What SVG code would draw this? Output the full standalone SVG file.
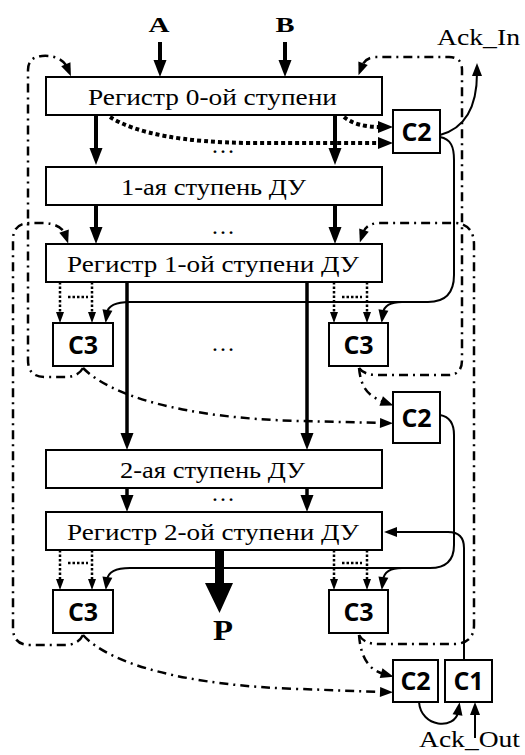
<svg xmlns="http://www.w3.org/2000/svg" width="525" height="755" viewBox="0 0 525 755">
<defs>
<style>
.box{fill:#fff;stroke:#000;stroke-width:2}
.ser{font-family:"Liberation Serif","Times New Roman",serif;font-size:24px;fill:#000}
.serb{font-family:"Liberation Serif","Times New Roman",serif;font-weight:bold;fill:#000}
.sans{font-family:"Open Sans","Noto Sans",sans-serif;font-weight:bold;font-size:25px;fill:#000}
.c{fill:none;stroke:#000}
.thick{stroke-width:4}
.thick2{stroke-width:3.5}
.thin{stroke-width:2}
.dd{stroke-width:2.5;stroke-dasharray:9 5 2 5}
.dot{stroke-width:4;stroke-dasharray:4 3}
.dots{stroke-width:2.5;stroke-dasharray:2.5 2}
</style>
<marker id="big" markerUnits="userSpaceOnUse" markerWidth="18" markerHeight="14" refX="3" refY="6.5" orient="auto" overflow="visible"><path d="M0,0 L17,6.5 L0,13 z" fill="#000"/></marker>
<marker id="dotm" markerUnits="userSpaceOnUse" markerWidth="16" markerHeight="12" refX="3" refY="6" orient="auto" overflow="visible"><path d="M0,0 L15,6 L0,12 z" fill="#000"/></marker>
<marker id="med" markerUnits="userSpaceOnUse" markerWidth="14" markerHeight="10" refX="3" refY="5" orient="auto" overflow="visible"><path d="M0,0 L13,5 L0,10 z" fill="#000"/></marker>
<marker id="sm" markerUnits="userSpaceOnUse" markerWidth="12" markerHeight="8" refX="3" refY="4" orient="auto" overflow="visible"><path d="M0,0 L11,4 L0,8 z" fill="#000"/></marker>
</defs>
<rect x="0" y="0" width="525" height="755" fill="#fff"/>

<g id="connectors">
<path class="c thick" d="M160,42 L160,63" marker-end="url(#big)"/>
<path class="c thick" d="M285,42 L285,63" marker-end="url(#big)"/>
<path class="c thick" d="M96,115 L96,151" marker-end="url(#big)"/>
<path class="c thick" d="M335,115 L335,151" marker-end="url(#big)"/>
<path class="c thick" d="M96,205 L96,230" marker-end="url(#big)"/>
<path class="c thick" d="M335,205 L335,230" marker-end="url(#big)"/>
<path class="c thick2" d="M127,282 L127,436" marker-end="url(#big)"/>
<path class="c thick2" d="M307,282 L307,436" marker-end="url(#big)"/>
<path class="c thick2" d="M127,488 L127,498" marker-end="url(#big)"/>
<path class="c thick2" d="M307,488 L307,498" marker-end="url(#big)"/>

<path class="c dot" d="M110,117 Q150,142 250,143 L381,143" marker-end="url(#dotm)"/>
<path class="c dot" d="M344,117 Q356,127 381,127" marker-end="url(#dotm)"/>

<path class="c thin" d="M440,135 C466,128 477,105 477,73" marker-end="url(#med)"/>
<path class="c thin" d="M440,137 C451,139 454,147 454,160 L454,275 Q454,302 428,302 L130,302 C115,302 108,306 107,313" marker-end="url(#med)"/>
<path class="c thin" d="M402,302 C390,302 384,306 383,313" marker-end="url(#med)"/>

<path class="c dots" d="M60,282 L60,315" marker-end="url(#sm)"/>
<path class="c dots" d="M92,282 L92,315" marker-end="url(#sm)"/>
<path class="c dots" d="M334,282 L334,315" marker-end="url(#sm)"/>
<path class="c dots" d="M367,282 L367,315" marker-end="url(#sm)"/>
<path class="c dots" d="M68,297 L88,297"/>
<path class="c dots" d="M342,297 L362,297"/>

<path class="c thin" d="M440,415 C451,417 454,425 454,435 L454,545 Q454,568 430,568 L130,568 C115,568 108,572 107,580" marker-end="url(#med)"/>
<path class="c thin" d="M402,568 C390,568 384,572 383,580" marker-end="url(#med)"/>

<path class="c dots" d="M60,550 L60,582" marker-end="url(#sm)"/>
<path class="c dots" d="M92,550 L92,582" marker-end="url(#sm)"/>
<path class="c dots" d="M334,550 L334,582" marker-end="url(#sm)"/>
<path class="c dots" d="M367,550 L367,582" marker-end="url(#sm)"/>
<path class="c dots" d="M68,563 L88,563"/>
<path class="c dots" d="M342,563 L362,563"/>

<path class="c thin" d="M464,660 L464,548 Q464,532 448,532 L394,532" marker-end="url(#med)"/>
<path class="c thin" d="M419,702 C421,728 455,730 458,712" marker-end="url(#med)"/>
<path class="c thin" d="M475,738 L475,712" marker-end="url(#med)"/>

<path class="c dd" d="M83,368 Q78,377 65,377 L45,377 Q28,377 28,360 L28,70 Q28,57 42,56 C55,55 64,60 67,67" marker-end="url(#med)"/>
<path class="c dd" d="M83,368 C110,395 180,418 300,421 L383,423" marker-end="url(#med)"/>
<path class="c dd" d="M359,368 Q364,375 378,375 L448,375 Q462,375 462,360 L462,70 Q462,57 449,57 L375,57 Q365,58 362,66" marker-end="url(#med)"/>
<path class="c dd" d="M359,368 C361,388 368,396 384,402" marker-end="url(#med)"/>
<path class="c dd" d="M83,635 Q78,645 65,645 L30,645 Q13,645 13,628 L13,240 Q13,223 30,223 L42,223 C55,223 63,228 65,234" marker-end="url(#med)"/>
<path class="c dd" d="M83,635 C110,665 190,686 300,689 L383,692" marker-end="url(#med)"/>
<path class="c dd" d="M359,635 Q364,644 378,644 L455,644 Q474,643 474,625 L474,245 Q474,224 455,223 L378,223 Q366,224 363,233" marker-end="url(#med)"/>
<path class="c dd" d="M359,635 C361,660 370,670 384,674" marker-end="url(#med)"/>

<polygon points="215,550 224,550 224,583 233,583 219.5,613 205,583 215,583" fill="#000"/>
</g>

<g id="labels">
<text class="serb" x="159" y="32" font-size="22" text-anchor="middle" textLength="21" lengthAdjust="spacingAndGlyphs">A</text>
<text class="serb" x="285" y="32" font-size="22" text-anchor="middle" textLength="19" lengthAdjust="spacingAndGlyphs">B</text>
<text class="serb" x="223" y="640" font-size="29" text-anchor="middle" textLength="20" lengthAdjust="spacingAndGlyphs">P</text>
<text class="ser" x="437" y="45" font-size="25" textLength="83" lengthAdjust="spacingAndGlyphs">Ack_In</text>
<text class="ser" x="419" y="747" font-size="24" textLength="101" lengthAdjust="spacingAndGlyphs">Ack_Out</text>
<text class="ser" x="223" y="153" text-anchor="middle">…</text>
<text class="ser" x="223" y="234" text-anchor="middle">…</text>
<text class="ser" x="223" y="351" text-anchor="middle">…</text>
<text class="ser" x="223" y="501" text-anchor="middle">…</text>
</g>

<g id="reg0"><rect class="box" x="46" y="77" width="336" height="38"/><text class="ser" x="88" y="104.5" textLength="249" lengthAdjust="spacingAndGlyphs">Регистр 0-ой ступени</text></g>
<g id="stage1"><rect class="box" x="46" y="167" width="336" height="38"/><text class="ser" x="121" y="194.5" textLength="185" lengthAdjust="spacingAndGlyphs">1-ая ступень ДУ</text></g>
<g id="reg1"><rect class="box" x="46" y="244" width="336" height="38"/><text class="ser" x="67" y="271.5" textLength="292" lengthAdjust="spacingAndGlyphs">Регистр 1-ой ступени ДУ</text></g>
<g id="stage2"><rect class="box" x="46" y="450" width="336" height="38"/><text class="ser" x="120" y="477.5" textLength="185" lengthAdjust="spacingAndGlyphs">2-ая ступень ДУ</text></g>
<g id="reg2"><rect class="box" x="46" y="512" width="336" height="38"/><text class="ser" x="67" y="539.5" textLength="292" lengthAdjust="spacingAndGlyphs">Регистр 2-ой ступени ДУ</text></g>

<g id="c2_top"><rect class="box" x="393" y="110" width="47" height="43"/><text class="sans" x="416.5" y="140.5" text-anchor="middle">C2</text></g>
<g id="c3_1l"><rect class="box" x="53" y="323" width="60" height="43"/><text class="sans" x="83" y="353.5" text-anchor="middle">C3</text></g>
<g id="c3_1r"><rect class="box" x="329" y="323" width="59" height="43"/><text class="sans" x="358.5" y="353.5" text-anchor="middle">C3</text></g>
<g id="c2_mid"><rect class="box" x="393" y="392" width="47" height="51"/><text class="sans" x="416.5" y="426.5" text-anchor="middle">C2</text></g>
<g id="c3_2l"><rect class="box" x="53" y="590" width="60" height="43"/><text class="sans" x="83" y="620.5" text-anchor="middle">C3</text></g>
<g id="c3_2r"><rect class="box" x="329" y="590" width="59" height="43"/><text class="sans" x="358.5" y="620.5" text-anchor="middle">C3</text></g>
<g id="c2_bot"><rect class="box" x="393" y="660" width="45" height="42"/><text class="sans" x="415.5" y="690" text-anchor="middle">C2</text></g>
<g id="c1"><rect class="box" x="445" y="660" width="47" height="42"/><text class="sans" x="468.5" y="690" text-anchor="middle">C1</text></g>
</svg>
